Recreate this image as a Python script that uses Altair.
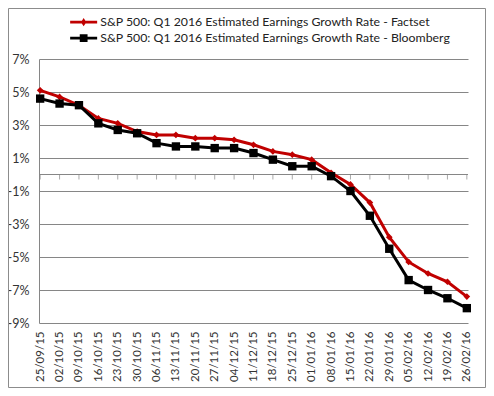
import altair as alt
import pandas as pd

dates = ["25/09/15", "02/10/15", "09/10/15", "16/10/15", "23/10/15", "30/10/15",
         "06/11/15", "13/11/15", "20/11/15", "27/11/15", "04/12/15", "11/12/15",
         "18/12/15", "25/12/15", "01/01/16", "08/01/16", "15/01/16", "22/01/16",
         "29/01/16", "05/02/16", "12/02/16", "19/02/16", "26/02/16"]
factset = [5.1, 4.7, 4.2, 3.4, 3.1, 2.6, 2.4, 2.4, 2.2, 2.2, 2.1, 1.8,
           1.4, 1.2, 0.9, 0.1, -0.6, -1.7, -3.8, -5.3, -6.0, -6.5, -7.4]
bloomberg = [4.6, 4.3, 4.2, 3.1, 2.7, 2.5, 1.9, 1.7, 1.7, 1.6, 1.6, 1.3,
             0.9, 0.5, 0.5, -0.1, -1.0, -2.5, -4.5, -6.4, -7.0, -7.5, -8.1]
series_names = ["S&P 500: Q1 2016 Estimated Earnings Growth Rate - Factset",
                "S&P 500: Q1 2016 Estimated Earnings Growth Rate - Bloomberg"]
series_colors = ["#C00000", "#000000"]
y_ticks = [-9, -7, -5, -3, -1, 1, 3, 5, 7]

rows = []
for i, (d, f, b) in enumerate(zip(dates, factset, bloomberg)):
    rows.append({"date": d, "idx": i, "value": f, "series": series_names[0]})
    rows.append({"date": d, "idx": i, "value": b, "series": series_names[1]})
df = pd.DataFrame(rows)

W, H = 429, 264
FONT = "Lato"
GRID = "#868686"

x_axis = alt.Axis(title=None, labelAngle=270, labelFontSize=11.5,
                  labelPadding=8, domain=False, ticks=False,
                  labelOverlap=False, labelColor="#333333", labelFont=FONT)
y_axis = alt.Axis(title=None, values=y_ticks, labelExpr="datum.value + '%'",
                  labelOverlap=False, grid=True, gridColor=GRID, gridOpacity=1,
                  domain=True, domainColor=GRID, ticks=False,
                  labelFontSize=12.5, labelPadding=10,
                  labelColor="#333333", labelFont=FONT)
x_scale = alt.Scale(type="point", padding=0.06)
y_scale = alt.Scale(domain=[-9, 7], nice=False, zero=False)

x_enc = alt.X("date:O", sort=dates, scale=x_scale, axis=x_axis)
y_enc = alt.Y("value:Q", scale=y_scale, axis=y_axis)
y_zero = alt.Y(datum=0, type="quantitative", scale=y_scale, axis=y_axis)

legend_paths = [
    "M-1,-0.22L3.5,-0.22L3.5,0.22L-1,0.22Z M1.25,-0.7L1.7,0L1.25,0.7L0.8,0Z",
    "M-1,-0.22L3.5,-0.22L3.5,0.22L-1,0.22Z M0.6,-0.65L1.9,-0.65L1.9,0.65L0.6,0.65Z",
]

legend_cfg = dict(title=None, orient="none", legendX=31, legendY=-43,
                  labelLimit=500, labelFontSize=12.3, labelFont=FONT,
                  labelColor="#222222", symbolSize=144, symbolOpacity=1,
                  symbolStrokeWidth=0, rowPadding=3, labelOffset=18)

color_enc = alt.Color("series:N",
                      scale=alt.Scale(domain=series_names, range=series_colors),
                      legend=alt.Legend(**legend_cfg))
shape_enc = alt.Shape("series:N",
                      scale=alt.Scale(domain=series_names, range=legend_paths),
                      legend=alt.Legend(**legend_cfg))

base = alt.Chart(df)

zero_line = base.mark_rule(color=GRID, strokeWidth=1).encode(y=y_zero)
zero_ticks = alt.Chart(pd.DataFrame({"date": dates})).mark_tick(
    orient="vertical", color=GRID, size=5, thickness=1, yOffset=2.5
).encode(x=x_enc, y=y_zero)

lines = base.mark_line(strokeWidth=3).encode(
    x=x_enc, y=y_enc, color=color_enc, order=alt.Order("idx:Q"))

diamonds = base.transform_filter(
    alt.datum.series == series_names[0]
).mark_point(shape="diamond", filled=True, size=45, opacity=1).encode(
    x=x_enc, y=y_enc, color=color_enc)

squares = base.transform_filter(
    alt.datum.series == series_names[1]
).mark_point(shape="square", filled=True, size=70, opacity=1).encode(
    x=x_enc, y=y_enc, color=color_enc)

legend_layer = base.mark_point(filled=True, opacity=0).encode(
    x=x_enc, y=y_enc, color=color_enc, shape=shape_enc)

frame = alt.Chart(pd.DataFrame({"k": [0]})).mark_rect(
    fillOpacity=0, stroke="#8c8c8c", strokeWidth=1
).encode(x=alt.value(-30.5), x2=alt.value(446.5),
         y=alt.value(-50.5), y2=alt.value(328.5))

chart = alt.layer(
    zero_line, zero_ticks, lines, diamonds, squares, legend_layer, frame
).properties(
    width=W, height=H,
    autosize=alt.AutoSizeParams(type="none"),
    padding={"left": 31, "top": 51, "right": 18, "bottom": 65},
).configure(font=FONT).configure_view(stroke=None)

chart.save("out.html", embed_options={"renderer": "svg", "actions": False})
